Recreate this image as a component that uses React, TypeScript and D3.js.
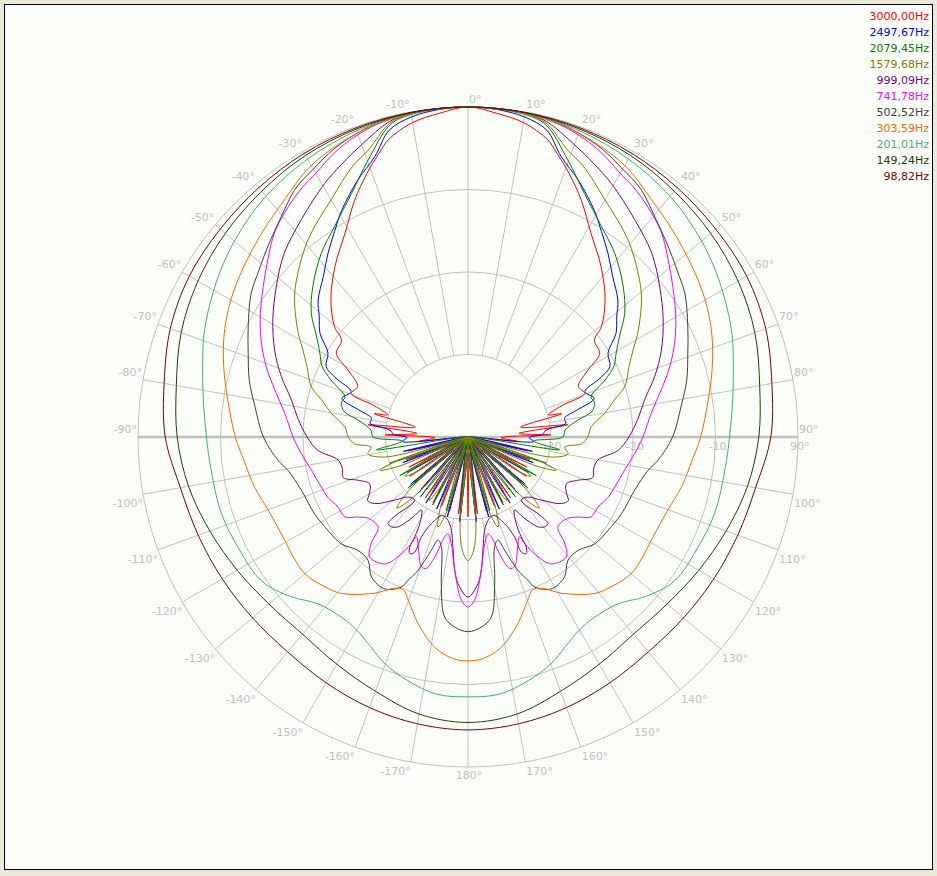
import React from 'react';
import * as d3 from 'd3';

type P = [number, number]; // [angle in degrees (0 = front, clockwise), level in dB]

const WIDTH = 937;
const HEIGHT = 876;

const freqLabels = ['3000,00Hz', '2497,67Hz', '2079,45Hz', '1579,68Hz', '999,09Hz', '741,78Hz', '502,52Hz', '303,59Hz', '201,01Hz', '149,24Hz', '98,82Hz'];
const freqColors = ['#ff0000', '#0000ff', '#008000', '#808000', '#800080', '#ff00ff', '#404040', '#ff6600', '#3cb371', '#204000', '#800000'];

const ringLevels = [-30, -20, -10, 0];
const ringLabels = ['-30', '-20', '-10'];
const spokeAngles = d3.range(0, 360, 10);
const upperRightLabels = [0, 10, 20, 30, 40, 50, 60, 70, 80, 90];
const upperLeftLabels = [-10, -20, -30, -40, -50, -60, -70, -80, -90];
const lowerRightLabels = [100, 110, 120, 130, 140, 150, 160, 170];
const lowerLeftLabels = [-100, -110, -120, -130, -140, -150, -160, -170];

// right half (0..180), path order; the left half is the mirror image
const s3000: P[] = [[0,0],[5,-0.6],[10,-1.3],[15,-2.7],[17.5,-4.0],[21,-5.8],[25.6,-8.2],[31,-11.1],[38,-13.8],[45,-16.5],[50.4,-19],[52.6,-20.7],[57.6,-21.1],[60.8,-23.3],[65.4,-25.3],[69.5,-24.9],[71.5,-28],[74.6,-29.9],[76,-28.3],[79.5,-33.5],[83,-27.8],[86,-33.8],[88.5,-30],[91,-36],[95,-34],[99.5,-45],[103,-32.5],[106.5,-45],[110,-32],[113.5,-45],[117,-32],[120.5,-45],[124,-31.5],[127.5,-45],[131,-31.5],[134.5,-45],[138,-31.5],[141.5,-45],[145,-31],[148.5,-45],[152,-31],[155.5,-45],[159,-31],[162.5,-45],[166,-30.8],[169.5,-45],[173,-30.6],[176.5,-45],[180,-30.3]];
const s2497: P[] = [[0,0],[5,-0.15],[10,-0.6],[14.4,-1.6],[18.4,-4.2],[23.2,-6.1],[29,-8.5],[33,-10.3],[37.3,-12],[42,-13.8],[47.6,-15.4],[51,-16.8],[55,-18.1],[59,-20.2],[63.6,-20.8],[66,-22.5],[68.8,-24.8],[73,-24],[76,-26.3],[79,-28.1],[82,-28],[85,-30.5],[88,-31],[90.5,-32.6],[94,-32],[98,-45],[102.5,-32],[107,-45],[111.5,-31.5],[116,-45],[120.5,-31.5],[125,-45],[129.5,-31],[134,-45],[138.5,-31],[143,-45],[147.5,-30.5],[152,-45],[156.5,-30.5],[161,-45],[165.5,-30],[170,-45],[174.4,-29.7],[180,-45]];
const s2079: P[] = [[0,0],[5,-0.1],[10,-0.3],[14,-1.0],[19.8,-4.3],[25.6,-7.3],[32.4,-9.8],[38.6,-11.5],[45.9,-13.8],[51.7,-15.8],[56,-17.8],[60.6,-19.4],[64,-20.3],[67.4,-22],[71.9,-24.3],[75.1,-24.1],[78.4,-24.7],[81.2,-26.5],[85.9,-28.2],[90,-28.5],[93.5,-32],[98,-28.8],[103.5,-45],[108.5,-30],[114,-45],[119.5,-30.5],[125,-45],[130.5,-30.5],[136,-45],[141.5,-30.7],[147,-45],[152.5,-30.7],[158,-45],[163.5,-30.7],[169,-45],[174.5,-30.8],[180,-45]];
const s1579: P[] = [[0,0],[5,-0.05],[10,-0.2],[14,-0.8],[19.2,-3.2],[23,-4.3],[30,-6.8],[39,-9.2],[47.5,-11.8],[51.7,-13.2],[55,-14.5],[58.6,-15.9],[62,-17.3],[66.4,-18.7],[72.2,-20.05],[75.8,-21.7],[80.2,-23.2],[85.2,-25],[90,-25.5],[93.4,-26.2],[95.9,-28.2],[99.5,-27.7],[103.5,-29.6],[106.5,-45],[108.5,-31],[110.7,-28.6],[113,-31],[116,-45],[119.5,-33],[122,-31],[124.5,-33],[128,-45],[132,-30.5],[135,-27.8],[138,-30.5],[142,-45],[146,-33],[148.5,-31],[151,-33],[155,-45],[158.5,-31],[161.6,-28.5],[164.5,-31],[171,-45],[175,-29],[177.5,-26],[180,-25]];
const s999: P[] = [[0,0],[5,-0.05],[10,-0.15],[14,-0.6],[20,-2.3],[25,-3.6],[29.5,-4.7],[37.5,-6.8],[45,-8.5],[52,-10.5],[59,-12.4],[65.8,-14.3],[72,-16.2],[78,-18.1],[84,-19.3],[90,-20.5],[95,-21.7],[100,-24],[104,-24.3],[108,-24.1],[111.5,-25.7],[115.4,-26.8],[120,-26.2],[122.3,-25.6],[125.5,-26.1],[130.8,-28.3],[135,-29.7],[139.9,-30],[139.4,-28.8],[137.6,-27.4],[137.3,-25.7],[139.6,-25.7],[142.1,-26.2],[145.5,-28.2],[147.5,-29.5],[150.9,-28],[151.9,-26.3],[152.1,-24.9],[153.4,-24.2],[155.1,-24.6],[155,-26.6],[157.1,-28.6],[162,-30],[166.5,-29.6],[169.9,-28.5],[172.2,-26.5],[174.3,-23.8],[176.1,-22.2],[180,-20.6]];
const s741: P[] = [[0,0],[5,-0.02],[10,-0.1],[15,-0.4],[20,-1.0],[25,-1.9],[30.5,-3.2],[33.4,-3.65],[38,-4.6],[43.3,-5.85],[48.5,-7.6],[53.7,-9.2],[59.2,-10.7],[64.9,-12.3],[70.8,-14.1],[76.3,-15.9],[82.6,-17.6],[90,-18.8],[95.7,-19.7],[102,-20.6],[108.8,-21.2],[113.2,-21.5],[118.3,-22.1],[123,-22.2],[126,-23.5],[129.2,-24.4],[135,-24.6],[137.8,-22.5],[140.7,-21.2],[146.7,-21.6],[149.7,-23.2],[152,-25.4],[152.7,-26.4],[155.6,-25.4],[160.3,-23.3],[162.4,-23.3],[164.5,-24.9],[166.9,-27.6],[168.3,-28],[171.1,-26.9],[174.3,-23.8],[177.7,-20.2],[180,-19.4]];
const s502: P[] = [[0,0],[5,-0.02],[10,-0.08],[15,-0.3],[20,-0.8],[25,-1.5],[30,-2.5],[35,-3.4],[40.3,-5.0],[46,-6.4],[51.5,-7.6],[56.6,-8.5],[63.4,-10.2],[69.2,-11.5],[75.4,-12.6],[81.8,-13.9],[90,-15.2],[97,-16.8],[100.5,-17.8],[107.7,-18.8],[116.6,-19.2],[123.7,-19.6],[130.1,-19.9],[135.9,-20.85],[141,-20.75],[145.4,-19.4],[151.2,-19],[156,-20.1],[157.3,-21.2],[159.4,-22.7],[162.1,-25.6],[163.8,-27],[166.4,-26.3],[169.7,-21.9],[172.6,-18],[176,-16.9],[180,-16.4]];
const s303: P[] = [[0,0],[10,-0.2],[20,-0.8],[30,-2.0],[37.5,-3.6],[45,-4.8],[53,-5.9],[60,-6.8],[67,-7.9],[74,-9.2],[81,-10.5],[90,-11.8],[96,-12.7],[103,-13.4],[110,-14.2],[119,-14.5],[125,-14.3],[130,-14.2],[136,-14.85],[141,-15.6],[149,-17.9],[154,-19.6],[157,-19.9],[160,-18.9],[165,-16.6],[171,-14.2],[176,-13.1],[180,-12.85]];
const s201: P[] = [[0,0],[10,-0.15],[20,-0.5],[30,-1.1],[40,-1.9],[48,-2.8],[55,-3.7],[62,-4.7],[69,-5.7],[75,-6.7],[82,-7.6],[90,-8.3],[97,-8.6],[107,-8.7],[116,-9.1],[125,-9.5],[132,-11.1],[138,-12.8],[145,-13.3],[150,-13.0],[155,-12],[160,-10.7],[166,-9.6],[173,-8.6],[180,-8.5]];
const s149: P[] = [[0,0],[10,-0.1],[20,-0.3],[30,-0.6],[40,-1.1],[50,-1.6],[60,-2.2],[70,-3.0],[80,-4.1],[90,-4.75],[100,-5.6],[110,-6.7],[120,-7.7],[130,-8.5],[140,-8.8],[150,-8.2],[160,-7.2],[170,-5.9],[180,-5.4]];
const s98: P[] = [[0,0],[10,-0.05],[20,-0.15],[30,-0.3],[40,-0.55],[50,-0.8],[60,-1.0],[70,-1.6],[80,-2.6],[90,-3.3],[100,-4.6],[110,-5.2],[120,-5.6],[130,-5.9],[140,-6.0],[150,-5.6],[160,-5.1],[170,-4.7],[180,-4.5]];

const seriesData: P[][] = [s3000, s2497, s2079, s1579, s999, s741, s502, s303, s201, s149, s98];

const CX = 468;
const CY = 437;
const R = 330;
const GRID = '#c0c0c0';
const FONT = "'DejaVu Sans', Verdana, sans-serif";

const rScale = d3.scaleLinear().domain([-40, 0]).range([0, R]).clamp(true);
const rad = (deg: number) => (deg * Math.PI) / 180;

function fullLoop(pts: P[]): P[] {
  const left = pts.slice(1, -1).reverse().map(([a, v]) => [360 - a, v] as P);
  return [...pts, ...left];
}

const line = d3
  .lineRadial<P>()
  .angle((d) => rad(d[0]))
  .radius((d) => rScale(d[1]))
  .curve(d3.curveCatmullRomClosed.alpha(0.5));

function endPoint(a: number) {
  return { x: CX + R * Math.sin(rad(a)), y: CY - R * Math.cos(rad(a)) };
}

export default function App() {
  const inner = rScale(-30);
  return (
    <svg width={WIDTH} height={HEIGHT} style={{ position: 'absolute', left: 0, top: 0, display: 'block' }}>
      <rect x={0} y={0} width={WIDTH} height={HEIGHT} fill="#ece9d8" />
      <rect x={4.5} y={4.5} width={928} height={865} fill="#fcfef9" stroke="#000" strokeWidth={1} />
      <g>
        {ringLevels.map((lv) => (
          <circle key={lv} cx={CX} cy={CY} r={rScale(lv)} fill="none" stroke={GRID} strokeWidth={1} />
        ))}
        {spokeAngles
          .filter((a) => a !== 90 && a !== 270)
          .map((a) => (
            <line
              key={a}
              x1={CX + inner * Math.sin(rad(a))}
              y1={CY - inner * Math.cos(rad(a))}
              x2={CX + R * Math.sin(rad(a))}
              y2={CY - R * Math.cos(rad(a))}
              stroke={GRID}
              strokeWidth={1}
            />
          ))}
        <line x1={CX - R} y1={CY} x2={CX + R} y2={CY} stroke={GRID} strokeWidth={2.5} />
      </g>
      <g fontFamily={FONT} fontSize={11} fill={GRID}>
        {upperRightLabels.map((a) => {
          const p = endPoint(a);
          return (
            <text key={'ur' + a} x={p.x + 1} y={p.y - 4} textAnchor="start">{`${a}°`}</text>
          );
        })}
        {upperLeftLabels.map((a) => {
          const p = endPoint(a);
          return (
            <text key={'ul' + a} x={p.x - 1} y={p.y - 4} textAnchor="end">{`${a}°`}</text>
          );
        })}
        <text x={790} y={CY + 13} textAnchor="start">90°</text>
        {lowerRightLabels.map((a) => {
          const p = endPoint(a);
          return (
            <text key={'lr' + a} x={p.x + 1} y={p.y + 13} textAnchor="start">{`${a}°`}</text>
          );
        })}
        {lowerLeftLabels.map((a) => {
          const p = endPoint(a);
          return (
            <text key={'ll' + a} x={p.x} y={p.y + 13} textAnchor="end">{`${a}°`}</text>
          );
        })}
        <text x={CX + 1} y={CY + R + 12} textAnchor="middle">180°</text>
        {ringLabels.map((t, i) => (
          <text key={'rl' + t} x={CX + rScale(ringLevels[i]) + 2} y={CY + 13} textAnchor="middle">{t}</text>
        ))}
      </g>
      <g transform={`translate(${CX},${CY})`} fill="none" strokeWidth={1}>
        {seriesData.map((s, i) => (
          <path key={freqLabels[i]} d={line(fullLoop(s)) || ''} stroke={freqColors[i]} />
        ))}
      </g>
      <g fontFamily={FONT} fontSize={11} textAnchor="end">
        {freqLabels.map((t, i) => (
          <text key={t} x={929} y={19.5 + 16 * i} fill={freqColors[i]}>{t}</text>
        ))}
      </g>
    </svg>
  );
}
